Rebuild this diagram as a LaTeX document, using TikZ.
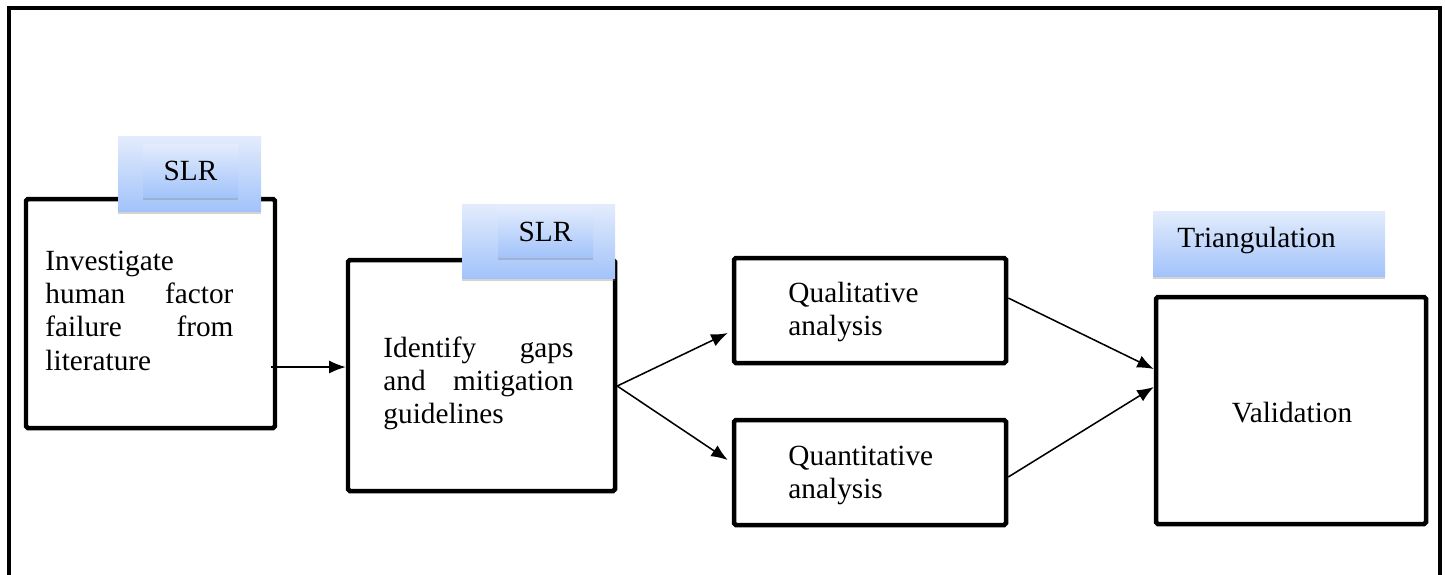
\documentclass[tikz,border=0pt]{standalone}
\usepackage{fontspec}
\setmainfont{Liberation Serif}
\usetikzlibrary{arrows.meta,calc,shadows,positioning}
\definecolor{tabtop}{RGB}{227,236,252}
\definecolor{tabbot}{RGB}{162,195,250}
\newcommand{\pxu}{0.4235pt}
\tikzset{>={Latex[length=7pt,width=5.5pt]}}
\tikzset{
  stage/.style={draw, line width=1.9pt, rounded corners=0.8pt, inner sep=0pt},
  tab/.style={top color=tabtop, bottom color=tabbot, draw=none, inner sep=0pt,
    drop shadow={shadow xshift=0pt, shadow yshift=-1.4pt, opacity=0.35}},
  flow/.style={->, line width=0.65pt},
  words/.style={inner sep=0pt, font=\fontsize{12.4}{14}\selectfont}
}
\begin{document}
\begin{tikzpicture}[x=\pxu, y=-\pxu]
  \useasboundingbox (0,0) rectangle (1445,574);
  % outer frame, open at the bottom
  \draw[line width=1.7pt] (9,590) -- (9,8) -- (1440,8) -- (1440,590);

  % the boxes
  \node[stage, minimum width=249*\pxu, minimum height=229*\pxu] (invest) at (150.5,313.5) {};
  \node[stage, minimum width=267*\pxu, minimum height=231*\pxu] (gaps) at (481.5,375.5) {};
  \node[stage, minimum width=272*\pxu, minimum height=105*\pxu] (qual) at (870,310.5) {};
  \node[stage, minimum width=272*\pxu, minimum height=105*\pxu] (quant) at (870,472.5) {};
  \node[stage, minimum width=270*\pxu, minimum height=227*\pxu] (valid) at (1291,410.5) {};

  % texts
  \node[words, anchor=north west, text width=188*\pxu, align=left] (investtxt) at (45,251)
    {Investigate\\ human\hfill factor\\ failure\hfill from\\ literature};
  \node[words, anchor=north west, text width=190*\pxu, align=left] (gapstxt) at (383,336)
    {Identify\hfill gaps\\ and\hfill mitigation\\ guidelines};
  \node[words, anchor=north west, align=left] (qualtxt) at (788,282) {Qualitative\\ analysis};
  \node[words, anchor=north west, align=left] (quanttxt) at (788,446) {Quantitative\\ analysis};
  \node[words] (validtxt) at (1292,413) {Validation};

  % method tabs
  \node[tab, minimum width=143*\pxu, minimum height=75*\pxu] (slrA) at (189.5,173.5) {};
  \node[tab, words, minimum width=95*\pxu, minimum height=53*\pxu] (slrAin) at (190.5,170.5) {SLR};
  \node[tab, minimum width=153*\pxu, minimum height=74*\pxu] (slrB) at (538.5,241) {};
  \node[tab, words, minimum width=95*\pxu, minimum height=50*\pxu] (slrBin) at (545.5,232) {SLR};
  \node[tab, minimum width=232*\pxu, minimum height=65*\pxu] (tri) at (1269,243.5) {};
  \node[words, anchor=west] (tritxt) at (1177,240) {Triangulation};

  % arrows
  \draw[flow] ($(invest.east)+(-6,53.5)$) -- ($(gaps.west)+(0,-8.5)$);
  \draw[flow] ($(gaps.east)+(0,10.5)$) -- ($(qual.west)+(-4,22.5)$);
  \draw[flow] ($(gaps.east)+(0,10.5)$) -- ($(quant.west)+(-4,-12.5)$);
  \draw[flow] ($(qual.east)+(0,-12.5)$) -- ($(valid.west)+(0,-41.5)$);
  \draw[flow] ($(quant.east)+(0,4.5)$) -- ($(valid.west)+(0,-23.5)$);
\end{tikzpicture}
\end{document}
